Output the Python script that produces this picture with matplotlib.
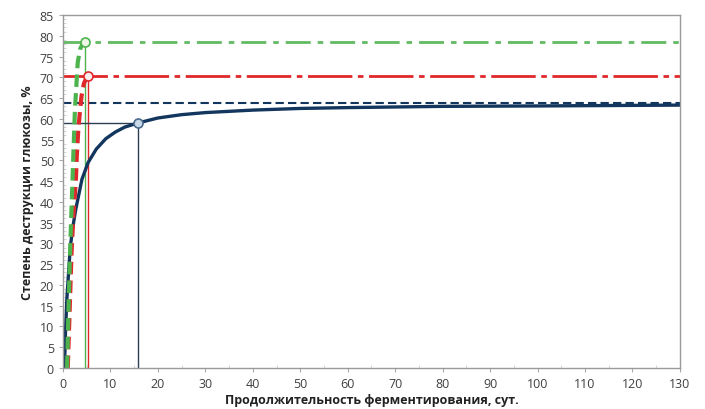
import numpy as np
import matplotlib.pyplot as plt
from matplotlib.ticker import MultipleLocator

plt.rcParams['font.family'] = ['Open Sans', 'DejaVu Sans']

# blue curve (solid) and its asymptote
t_blue = [0.3, 0.5, 0.8, 1.5, 2.0, 2.7, 4, 5.3, 7, 9, 11, 13, 15.8, 20, 25, 30, 40, 50, 60, 80, 100, 130]
y_blue = [0, 8, 16.5, 28.7, 33.5, 38.3, 45.5, 49.5, 52.7, 55.2, 56.8, 58, 59, 60.2, 61, 61.5, 62.1, 62.5, 62.7, 63, 63.1, 63.3]
lim_blue = 63.8
mark_blue = (15.8, 59)

# red dashed curve
t_red = [1.0, 1.4, 1.8, 2.2, 2.7, 2.9, 3.2, 3.5, 3.9, 4.4, 4.9, 5.3]
y_red = [0, 14, 28, 37, 45, 51, 57, 61, 65.5, 68.5, 69.8, 70.4]
lim_red = 70.4
mark_red = (5.3, 70.4)

# green dashed curve
t_green = [0.85, 1.1, 1.5, 1.9, 2.2, 2.5, 3.1, 3.6, 4.1, 4.6]
y_green = [0, 12, 28.7, 42, 52, 62, 73.6, 76.8, 78, 78.5]
lim_green = 78.5
mark_green = (4.6, 78.5)

navy = '#13365e'
red = '#e0282b'
green = '#4db34d'

fig = plt.figure(figsize=(7.05, 4.10), dpi=100)
ax = fig.add_axes([0.0894, 0.1, 0.875, 0.861])

# asymptotes
ax.plot([0, 130], [lim_green, lim_green], color='#62bb62', lw=2.0, dashes=[9, 2.5, 2, 2.5])
ax.plot([0, 130], [lim_red, lim_red], color=red, lw=2.0, dashes=[16, 2, 2, 2])
ax.plot([0, 130], [lim_blue, lim_blue], color=navy, lw=1.5, dashes=[4, 2])

# guide lines to markers
ax.plot([mark_green[0]] * 2, [0, mark_green[1]], color=green, lw=1.0)
ax.plot([mark_red[0]] * 2, [0, mark_red[1]], color=red, lw=1.0)
ax.plot([mark_blue[0]] * 2, [0, mark_blue[1]], color='#2d3f55', lw=1.0)
ax.plot([0, mark_blue[0]], [mark_blue[1]] * 2, color='#2d3f55', lw=1.0)

# curves
ax.plot(t_blue, y_blue, color=navy, lw=2.4, solid_capstyle='round', solid_joinstyle='round')
ax.plot(t_red, y_red, color=red, lw=3.0, dashes=[3, 1.5])
ax.plot(t_green, y_green, color=green, lw=3.0, dashes=[3, 1.5])

ax.plot(*mark_green, 'o', ms=6.5, mfc='#eef6e8', mec=green, mew=1.2, zorder=5)
ax.plot(*mark_red, 'o', ms=6.5, mfc='#fbeeee', mec=red, mew=1.2, zorder=5)
ax.plot(*mark_blue, 'o', ms=6.5, mfc='#c9d8e8', mec='#4a6a8c', mew=1.2, zorder=5)

ax.set_xlim(0, 130)
ax.set_ylim(0, 85)
ax.xaxis.set_major_locator(MultipleLocator(10))
ax.yaxis.set_major_locator(MultipleLocator(5))
ax.xaxis.set_minor_locator(MultipleLocator(5))
ax.yaxis.set_minor_locator(MultipleLocator(1))
ax.tick_params(which='major', direction='out', length=3, color='#aaaaaa',
               labelsize=9, labelcolor='#404040')
ax.tick_params(which='minor', direction='in', length=2, color='#cccccc')
for s in ax.spines.values():
    s.set_color('#9a9a9a')
    s.set_linewidth(1.0)

ax.set_xlabel('Продолжительность ферментирования, сут.', fontsize=9,
              fontweight='bold', color='#222222', labelpad=2)
ax.set_ylabel('Степень деструкции глюкозы, %', fontsize=9,
              fontweight='bold', color='#222222', labelpad=4)

fig.savefig('out.png', dpi=100)
